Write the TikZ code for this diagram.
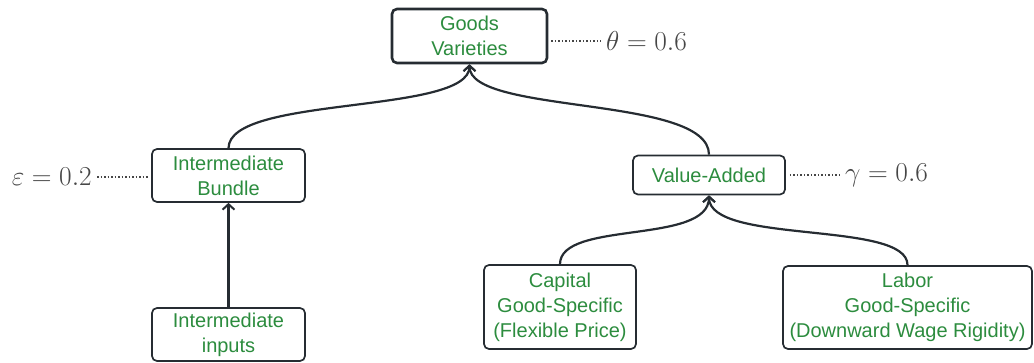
\documentclass[tikz,border=0pt]{standalone}
\usepackage{fontspec}
\setsansfont{Liberation Sans}
\usetikzlibrary{arrows.meta}
\definecolor{txtgreen}{RGB}{44,140,62}
\definecolor{edge}{RGB}{38,44,50}
\definecolor{lbl}{RGB}{70,70,70}
\newcommand{\bigpar}[1]{\scalebox{1.1}{\fontsize{24.88}{30}\selectfont$#1$}}
\tikzset{
  box/.style={draw=edge, line width=1.7pt, rounded corners=5pt, align=center,
    text=txtgreen, font=\sffamily\fontsize{20}{25}\selectfont, inner sep=0pt},
  topbox/.style={box, line width=2.6pt},
  conn/.style={draw=edge, line width=2.2pt, -{Straight Barb[length=5.5pt,width=12pt,line width=2pt]}},
  dots/.style={draw=lbl, line width=1.5pt, dotted},
  param/.style={text=lbl, inner sep=0pt}
}
\begin{document}
\begin{tikzpicture}[x=1pt,y=-1pt]
\useasboundingbox (0,0) rectangle (1034,363);
\node[topbox, minimum width=155pt, minimum height=54pt] (gv) at (469.5,36) {Goods\\Varieties};
\node[box, minimum width=153pt, minimum height=53pt] (ib) at (228.5,175.5) {Intermediate\\Bundle};
\node[box, minimum width=152pt, minimum height=39pt] (va) at (709,175) {Value-Added};
\node[box, minimum width=153pt, minimum height=53pt] (ii) at (228.5,334.5) {Intermediate\\inputs};
\node[box, minimum width=152pt, minimum height=84pt] (cap) at (560,307) {Capital\\Good-Specific\\(Flexible Price)};
\node[box, minimum width=249pt, minimum height=83pt] (lab) at (907.5,307.5) {Labor\\Good-Specific\\(Downward Wage Rigidity)};
\node[param, anchor=west] (th) at (606,41) {\bigpar{\theta = 0.6}};
\node[param, anchor=east] (ep) at (92,177) {\bigpar{\varepsilon = 0.2}};
\node[param, anchor=west] (ga) at (845,175) {\bigpar{\gamma = 0.6}};
\draw[dots] (gv.east |- th.west) ++(3,0) -- ([xshift=-5pt]th.west);
\draw[dots] ([xshift=5pt]ep.east) -- ([xshift=-3pt]ib.west |- ep.east);
\draw[dots] (va.east |- ga.west) ++(4,0) -- ([xshift=-5pt]ga.west);
\draw[conn] (ib.north) .. controls (229,95) and (469.5,115) .. (gv.south);
\draw[conn] (va.north) .. controls (709,95) and (469.5,115) .. (gv.south);
\draw[conn] (ii.north) -- (ib.south);
\draw[conn] (cap.north) .. controls (560,220) and (709,245) .. (va.south);
\draw[conn] (lab.north) .. controls (908,220) and (709,245) .. (va.south);
\end{tikzpicture}
\end{document}
